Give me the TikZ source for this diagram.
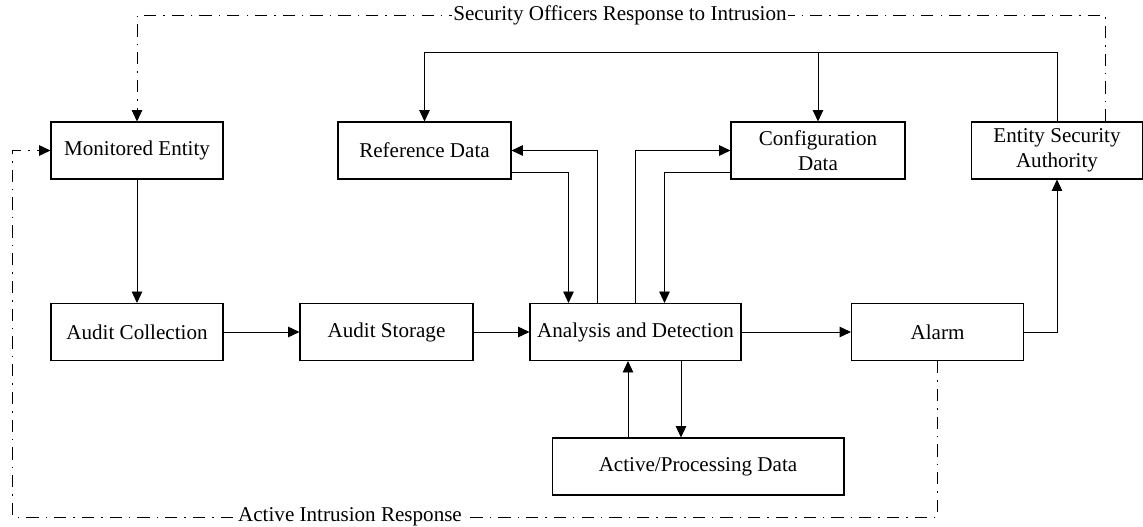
\documentclass[tikz,border=0pt]{standalone}
\usepackage{fontspec}
\setmainfont{Liberation Serif}
\usepackage{tikz}
\usetikzlibrary{arrows.meta,positioning,calc}

\begin{document}
\begin{tikzpicture}[x=0.02cm,y=-0.02cm,
    >={Triangle[length=6.5pt,width=6pt]},
    blk/.style={draw,line width=0.6pt,minimum width=3.44cm,minimum height=1.14cm,inner sep=0pt,align=center,font=\fontsize{12}{14.5}\selectfont},
    ln/.style={line width=0.5pt},
    dd/.style={line width=0.5pt,dash pattern=on 7pt off 4pt on 0.8pt off 4pt},
    lbl/.style={fill=white,inner sep=1pt,font=\fontsize{12}{14.5}\selectfont}]
                \useasboundingbox (0,0) rectangle (1143,527);

                \node[blk] (mon) at (137,150.5) {Monitored Entity};
                \node[blk,minimum width=3.46cm] (ref) at (424.5,150.5) {Reference Data};
                \node[blk,minimum width=3.48cm] (cfg) at (818,150.5) {Configuration\\Data};
                \node[blk] (esa) at (1057,150.5) {Entity Security\\Authority};

                \node[blk] (col) at (137,332) {Audit Collection};
                \node[blk,minimum width=3.46cm] (sto) at (386.5,332) {Audit Storage};
                \node[blk,minimum width=4.22cm] (ana) at (635.5,332) {Analysis and Detection};
                \node[blk] (alm) at (937.5,332) {Alarm};
                \node[blk,minimum width=5.84cm] (act) at (698,466.5) {Active/Processing Data};

                \coordinate (bus) at (0,52.7);
                \coordinate (top) at (0,15.7);
                \coordinate (low) at (12.7,517);
                \coordinate (a1) at ($(ana.north)+(-67,0)$);
                \coordinate (a2) at ($(ana.north)+(-38,0)$);
                \coordinate (a4) at ($(ana.north)+(29,0)$);
                \coordinate (p1) at ($(act.north)+(-70,0)$);
                \coordinate (p2) at ($(act.north)+(-17,0)$);
                \coordinate (e2) at ($(esa.north)+(48.3,0)$);

                \draw[ln,->] (mon) -- (col);
                \draw[ln,->] (col) -- (sto);
                \draw[ln,->] (sto) -- (ana);
                \draw[ln,->] (ana) -- (alm);
                \draw[ln,->] (alm.east) -| (esa.south);

                \draw[ln,->] (esa.north) -- (esa.north |- bus) -- (ref.north |- bus) -- (ref.north);
                \draw[ln,->] (cfg.north |- bus) -- (cfg.north);

                \draw[ln,->] (a2) |- (ref.east);
                \draw[ln,->] ($(ref.east)+(0,22)$) -| (a1);
                \draw[ln,->] (ana.north) |- (cfg.west);
                \draw[ln,->] ($(cfg.west)+(0,22)$) -| (a4);

                \draw[ln,->] (p1) -- (p1 |- ana.south);
                \draw[ln,->] (p2 |- ana.south) -- (p2);

                \draw[dd,->] (e2) |- (mon.north |- top) -- (mon.north);
                \draw[dd,->] (alm.south) |- (low) |- (mon.west);
                \node[lbl] (secl) at (620,15.7) {Security Officers Response to Intrusion};
                \node[lbl] (actl) at (350,517) {Active Intrusion Response};
            \end{tikzpicture}
\end{document}
